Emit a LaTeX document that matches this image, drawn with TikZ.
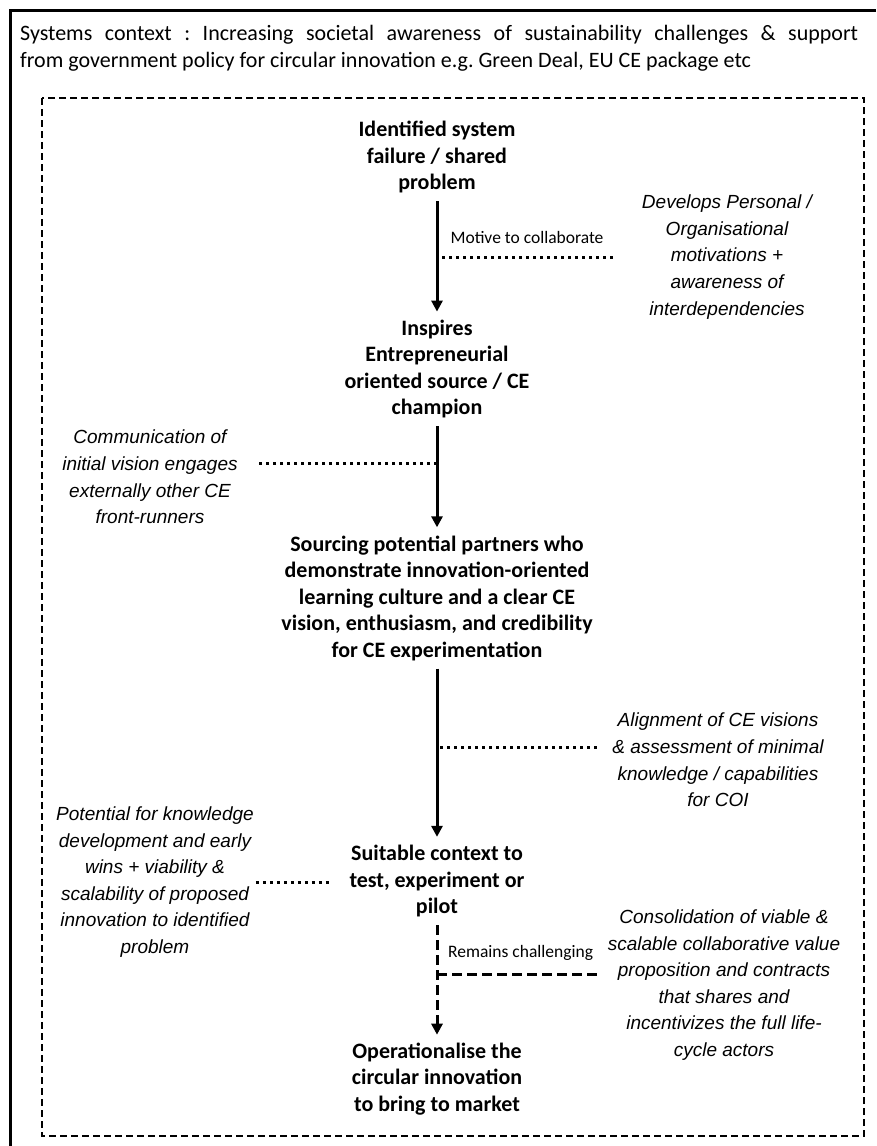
\documentclass[tikz,border=0pt]{standalone}
\usepackage{fontspec}
\setmainfont{Carlito}
\newfontfamily\arialfont{Liberation Sans}
\usetikzlibrary{arrows.meta}
\frenchspacing
\begin{document}
\begin{tikzpicture}[x=1pt,y=-1pt,
  stage/.style={font=\bfseries\fontsize{22}{26.5}\selectfont, align=center, inner sep=0pt},
  note/.style={font=\arialfont\itshape\fontsize{19}{26.6}\selectfont, align=center, inner sep=0pt},
  lbl/.style={font=\fontsize{17.5}{20}\selectfont, inner sep=0pt},
  arr/.style={line width=3pt, -{Triangle[width=11pt,length=11pt]}},
  dotline/.style={line width=3pt, dash pattern=on 3pt off 4pt},
  dashline/.style={line width=3pt, dash pattern=on 10pt off 5pt},
  dasharr/.style={dashline, -{Triangle[width=11pt,length=11pt]}}]
\useasboundingbox (0,0) rectangle (876,1146);
% outer frame
\draw[line width=3pt] (876,10) -- (10,10) -- (10,1146);
% inner dashed frame
\draw[line width=2pt, dash pattern=on 7pt off 4pt] (42,98) rectangle (864,1136);
% context text
\node[anchor=west, text width=838pt, align=justify, inner sep=0pt,
  font=\fontsize{22}{27}\selectfont] (ctx) at (20,48)
  {Systems context : Increasing societal awareness of sustainability challenges \& support\linebreak from government policy for circular innovation e.g. Green Deal, EU CE package etc};
% stages
\node[stage] (n1) at (437,157) {Identified system\\failure / shared\\problem};
\node[stage] (n2) at (437,369) {Inspires\\Entrepreneurial\\oriented source / CE\\champion};
\node[stage] (n3) at (437,598) {Sourcing potential partners who\\demonstrate innovation-oriented\\learning culture and a clear CE\\vision, enthusiasm, and credibility\\for CE experimentation};
\node[stage] (n4) at (437,881) {Suitable context to\\test, experiment or\\pilot};
\node[stage] (n5) at (437,1079) {Operationalise the\\circular innovation\\to bring to market};
% notes
\node[note] (r1) at (727,257) {Develops Personal /\\Organisational\\motivations +\\awareness of\\interdependencies};
\node[note] (l1) at (150,477) {Communication of\\initial vision engages\\externally other CE\\front-runners};
\node[note] (r2) at (718,760) {Alignment of CE visions\\\& assessment of minimal\\knowledge / capabilities\\for COI};
\node[note] (l2) at (155,882) {Potential for knowledge\\development and early\\wins + viability \&\\scalability of proposed\\innovation to identified\\problem};
\node[note] (r3) at (724,985) {Consolidation of viable \&\\scalable collaborative value\\proposition and contracts\\that shares and\\incentivizes the full life-\\cycle actors};
% labels
\node[lbl] (m1) at (527,237) {Motive to collaborate};
\node[lbl, anchor=west] (m2) at (448,953) {Remains challenging};
% connectors
\draw[arr, shorten <=8pt, shorten >=8pt] (n1) -- (n2);
\draw[arr, shorten <=8pt, shorten >=8pt] (n2) -- (n3);
\draw[arr, shorten <=8pt, shorten >=8pt] (n3) -- (n4);
\draw[dasharr, shorten <=8pt, shorten >=8pt] (n4) -- (n5);
\coordinate (j1) at (442,257);
\coordinate (j2) at (437,463);
\coordinate (j3) at (440,747);
\coordinate (j4) at (437,974);
\draw[dotline, shorten >=29pt] (j1) -- (j1 -| r1.west);
\draw[dotline, shorten >=20pt] (j2) -- (j2 -| l1.east);
\draw[dotline, shorten >=15pt] (j3) -- (j3 -| r2.west);
\draw[dotline, shorten <=2pt, shorten >=17pt] (l2.east) -- (l2.east -| n4.west);
\draw[dashline, shorten >=8pt] (j4) -- (j4 -| r3.west);
\end{tikzpicture}
\end{document}
